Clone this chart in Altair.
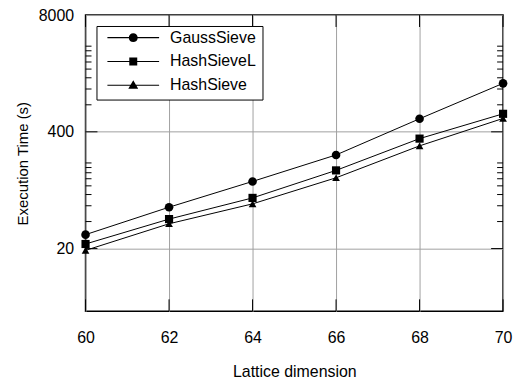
import altair as alt
import pandas as pd

series = ["GaussSieve", "HashSieveL", "HashSieve"]
dims = [60, 62, 64, 66, 68, 70]
gauss = [28.6, 57.8, 112, 221, 559, 1387]
hash_l = [22.5, 42.6, 73.4, 148.7, 336, 635]
hash_s = [19.1, 37.8, 63, 123, 279, 564]
y_major = [20, 400, 8000]
y_minor = [20 * k for k in range(2, 10)] + [400 * k for k in range(2, 10)]

rows = []
for name, vals in zip(series, [gauss, hash_l, hash_s]):
    for d, v in zip(dims, vals):
        rows.append({"series": name, "dim": d, "time": v})
df = pd.DataFrame(rows)
minor_df = pd.DataFrame({"time": y_minor})
ymaj_df = pd.DataFrame({"time": [20, 400]})
xmaj_df = pd.DataFrame({"dim": dims})

FONT = "Liberation Sans"
W, H = 420, 298

X = alt.X("dim:Q",
          scale=alt.Scale(domain=[60, 70], nice=False, zero=False),
          axis=alt.Axis(values=dims, grid=True, ticks=False, domain=False,
                        labelPadding=18, labelFontSize=16, titleFontSize=16,
                        titlePadding=19, format="d", labelFlush=False),
          title="Lattice dimension")
Y = alt.Y("time:Q",
          scale=alt.Scale(type="log", domain=[4, 8000], nice=False),
          axis=alt.Axis(values=y_major, grid=True, ticks=False, domain=False,
                        labelPadding=12, labelFontSize=16, titleFontSize=15,
                        titlePadding=8, format="d", labelFlush=False),
          title="Execution Time (s)")

shape_dom = series
c = 0.173
s = 0.154
t = 0.02
bar = f"M-1,{-t}H1V{t}H-1Z"
leg_paths = [
    f"{bar}M{-c},0A{c},{c} 0 1,1 {c},0A{c},{c} 0 1,1 {-c},0Z",
    f"{bar}M{-s},{-s}H{s}V{s}H{-s}Z",
    f"{bar}M0,-0.2L0.192,0.133L-0.192,0.133Z",
]

LEG = dict(
    orient="none", legendX=11, legendY=11, direction="vertical",
    symbolSize=2704, symbolOpacity=1,
    symbolFillColor="black", symbolStrokeColor="black",
    symbolStrokeWidth=0, symbolOffset=5,
    labelOffset=11, labelFontSize=16, labelFont=FONT, labelColor="black",
    labelLimit=300,
    clipHeight=11.4, rowPadding=7, padding=6,
    strokeColor="black", fillColor="white", cornerRadius=0,
)

minor_left = alt.Chart(minor_df).mark_rule(color="black", strokeWidth=1).encode(
    y=Y, x=alt.value(0), x2=alt.value(6))
minor_right = alt.Chart(minor_df).mark_rule(color="black", strokeWidth=1).encode(
    y=Y, x=alt.value(W - 6), x2=alt.value(W))
major_left = alt.Chart(ymaj_df).mark_rule(color="black", strokeWidth=1).encode(
    y=Y, x=alt.value(0), x2=alt.value(12))
major_right = alt.Chart(ymaj_df).mark_rule(color="black", strokeWidth=1).encode(
    y=Y, x=alt.value(W - 12), x2=alt.value(W))
xt_bottom = alt.Chart(xmaj_df).mark_rule(color="black", strokeWidth=1).encode(
    x=X, y=alt.value(H - 12), y2=alt.value(H))
xt_top = alt.Chart(xmaj_df).mark_rule(color="black", strokeWidth=1).encode(
    x=X, y=alt.value(0), y2=alt.value(12))

lines = alt.Chart(df).mark_line(color="black", strokeWidth=1, clip=False).encode(
    x=X, y=Y, detail="series:N")
points = alt.Chart(df).mark_point(filled=True, color="black", opacity=1, clip=False).encode(
    x=X, y=Y,
    shape=alt.Shape("series:N", scale=alt.Scale(domain=shape_dom,
                    range=["circle", "square", "triangle-up"]), legend=None),
    size=alt.Size("series:N", scale=alt.Scale(domain=shape_dom, range=[75, 60, 95]),
                  legend=None),
)
legend_layer = alt.Chart(df).mark_point(filled=True, color="black", opacity=0).encode(
    x=X, y=Y,
    shape=alt.Shape("series:N", scale=alt.Scale(domain=shape_dom, range=leg_paths),
                    legend=alt.Legend(
                        title=None,
                        labelExpr="datum.label + '\u2007\u2007\u2007'",
                        **LEG)),
)

chart = alt.layer(
    minor_left, minor_right, major_left, major_right, xt_bottom, xt_top,
    lines, points, legend_layer
).resolve_scale(shape="independent", size="independent").properties(
    width=W, height=H,
    autosize=alt.AutoSizeParams(type="none"),
    padding={"left": 78, "top": 6, "right": 10, "bottom": 68},
    background="white",
).configure_view(stroke="black", strokeWidth=1.5).configure_axis(
    labelFont=FONT, titleFont=FONT, labelColor="black", titleColor="black",
    titleFontWeight="normal", gridColor="#a0a0a0", gridWidth=1, gridOpacity=1,
).configure_legend(**LEG)

chart.save("out.html", embed_options={"renderer": "svg", "actions": False})
